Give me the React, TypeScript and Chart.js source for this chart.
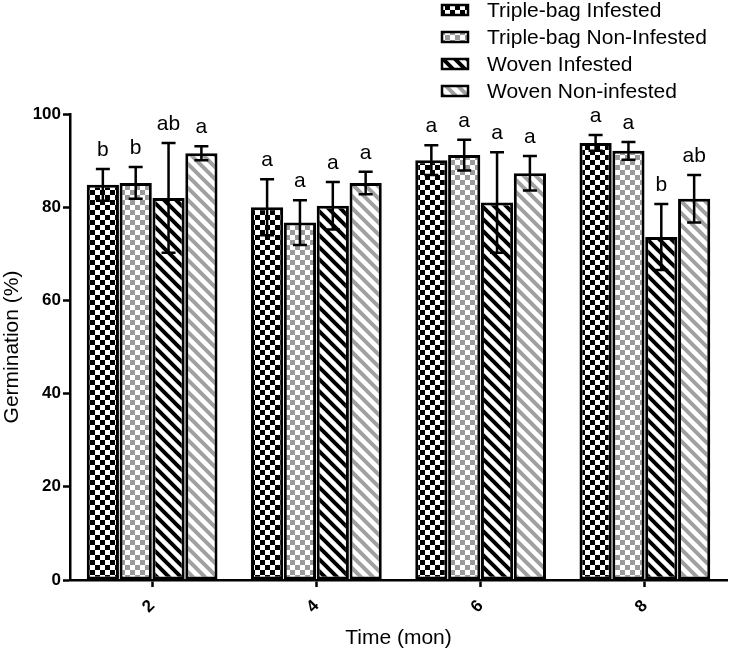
import React, { useEffect, useRef } from "react";
import { Chart, registerables } from "chart.js";

Chart.register(...registerables);

const categories = ["2", "4", "6", "8"];
const seriesNames = [
  "Triple-bag Infested",
  "Triple-bag Non-Infested",
  "Woven Infested",
  "Woven Non-infested",
];
const tripleInfested = [84.8, 80.0, 90.1, 93.8];
const tripleNonInfested = [85.2, 76.7, 91.2, 92.1];
const wovenInfested = [82.0, 80.3, 81.0, 73.6];
const wovenNonInfested = [91.6, 85.2, 87.3, 81.8];
const tripleInfestedErr = [3.4, 6.0, 3.2, 1.7];
const tripleNonInfestedErr = [3.4, 4.8, 3.3, 1.9];
const wovenInfestedErr = [11.8, 5.1, 10.8, 7.1];
const wovenNonInfestedErr = [1.5, 2.4, 3.7, 5.1];
const tripleInfestedLetters = ["b", "a", "a", "a"];
const tripleNonInfestedLetters = ["b", "a", "a", "a"];
const wovenInfestedLetters = ["ab", "a", "a", "b"];
const wovenNonInfestedLetters = ["a", "a", "a", "ab"];
const yTicks = [0, 20, 40, 60, 80, 100];

const FONT = "Arial, 'Liberation Sans'";

function makeChecker(fg: string) {
  const c = document.createElement("canvas");
  const s = 5;
  c.width = s * 2;
  c.height = s * 2;
  const g = c.getContext("2d")!;
  g.fillStyle = "#fff";
  g.fillRect(0, 0, s * 2, s * 2);
  g.fillStyle = fg;
  g.fillRect(0, 0, s, s);
  g.fillRect(s, s, s, s);
  return g.createPattern(c, "repeat")!;
}

function makeStripe(fg: string) {
  const c = document.createElement("canvas");
  const s = 12;
  c.width = s;
  c.height = s;
  const g = c.getContext("2d")!;
  g.fillStyle = "#fff";
  g.fillRect(0, 0, s, s);
  g.strokeStyle = fg;
  g.lineWidth = 4;
  g.beginPath();
  for (let k = -1; k <= 1; k++) {
    g.moveTo(k * s - 2, -2);
    g.lineTo(k * s + s + 2, s + 2);
  }
  g.stroke();
  return g.createPattern(c, "repeat")!;
}

export default function App() {
  const ref = useRef<HTMLCanvasElement>(null);
  useEffect(() => {
    if (!ref.current) return;
    const fills = [
      makeChecker("#000"),
      makeChecker("#9a9a9a"),
      makeStripe("#000"),
      makeStripe("#a0a0a0"),
    ];
    const values = [tripleInfested, tripleNonInfested, wovenInfested, wovenNonInfested];
    const errs = [tripleInfestedErr, tripleNonInfestedErr, wovenInfestedErr, wovenNonInfestedErr];
    const letters = [tripleInfestedLetters, tripleNonInfestedLetters, wovenInfestedLetters, wovenNonInfestedLetters];

    const overlay = {
      id: "overlay",
      afterDatasetsDraw(chart: any) {
        const ctx = chart.ctx;
        const y = chart.scales.y;
        ctx.save();
        chart.data.datasets.forEach((ds: any, di: number) => {
          const meta = chart.getDatasetMeta(di);
          meta.data.forEach((bar: any, i: number) => {
            const v = values[di][i];
            const e = errs[di][i];
            const x = bar.x;
            const yt = y.getPixelForValue(v + e);
            const yb = y.getPixelForValue(v - e);
            ctx.strokeStyle = "#000";
            ctx.lineWidth = 2.5;
            ctx.beginPath();
            ctx.moveTo(x, yt);
            ctx.lineTo(x, yb);
            ctx.moveTo(x - 7, yt);
            ctx.lineTo(x + 7, yt);
            ctx.moveTo(x - 7, yb);
            ctx.lineTo(x + 7, yb);
            ctx.stroke();
            ctx.fillStyle = "#000";
            ctx.font = "21px " + FONT;
            ctx.textAlign = "center";
            ctx.textBaseline = "alphabetic";
            ctx.fillText(letters[di][i], x, yt - 13);
          });
        });
        // legend
        const lx = 442;
        const ly0 = 10;
        const step = 27;
        ctx.font = "21px " + FONT;
        ctx.textAlign = "left";
        ctx.textBaseline = "middle";
        seriesNames.forEach((n, i) => {
          const yy = ly0 + i * step;
          ctx.fillStyle = fills[i];
          ctx.fillRect(lx, yy - 5, 26, 10);
          ctx.strokeStyle = "#000";
          ctx.lineWidth = 2.5;
          ctx.strokeRect(lx, yy - 5, 26, 10);
          ctx.fillStyle = "#000";
          ctx.fillText(n, lx + 45, yy + 1);
        });
        ctx.restore();
      },
    };

    const chart = new Chart(ref.current, {
      type: "bar",
      data: {
        labels: categories,
        datasets: seriesNames.map((n, i) => ({
          label: n,
          data: values[i],
          backgroundColor: fills[i],
          borderColor: "#000",
          borderWidth: 3,
          borderSkipped: false,
          categoryPercentage: 0.8,
          barPercentage: 0.98,
        })),
      },
      options: {
        animation: false,
        responsive: false,
        events: [],
        layout: { padding: { top: 114, right: 5, left: 0, bottom: 0 } },
        plugins: { legend: { display: false }, tooltip: { enabled: false } },
        scales: {
          x: {
            afterFit(scale: any) {
              scale.height = 73;
            },
            grid: {
              display: true,
              drawOnChartArea: false,
              drawTicks: true,
              tickLength: 7,
              tickWidth: 2.5,
              tickColor: "#000",
              offset: false,
            },
            border: { color: "#000", width: 2.5 },
            ticks: {
              color: "#000",
              font: { family: FONT, size: 17, weight: "bold" },
              minRotation: 45,
              maxRotation: 45,
              padding: 9,
            },
            title: {
              display: true,
              text: "Time (mon)",
              color: "#000",
              font: { family: FONT, size: 21 },
              padding: { top: 0, bottom: 2 },
            },
          },
          y: {
            min: 0,
            max: 100,
            afterFit(scale: any) {
              scale.width = 70;
            },
            afterBuildTicks(scale: any) {
              scale.ticks = yTicks.map((v) => ({ value: v }));
            },
            grid: {
              display: true,
              drawOnChartArea: false,
              drawTicks: true,
              tickLength: 7,
              tickWidth: 2.5,
              tickColor: "#000",
            },
            border: { color: "#000", width: 2.5 },
            ticks: {
              color: "#000",
              font: { family: FONT, size: 17, weight: "bold" },
              padding: 2,
            },
            title: {
              display: true,
              text: "Germination (%)",
              color: "#000",
              font: { family: FONT, size: 21 },
              padding: { top: 0, bottom: 2 },
            },
          },
        },
      },
      plugins: [overlay],
    } as any);
    return () => chart.destroy();
  }, []);
  return (
    <div style={{ position: "fixed", left: 0, top: 0, width: 732, height: 653, background: "#fff" }}>
      <canvas ref={ref} width={732} height={653} style={{ width: 732, height: 653 }} />
    </div>
  );
}
